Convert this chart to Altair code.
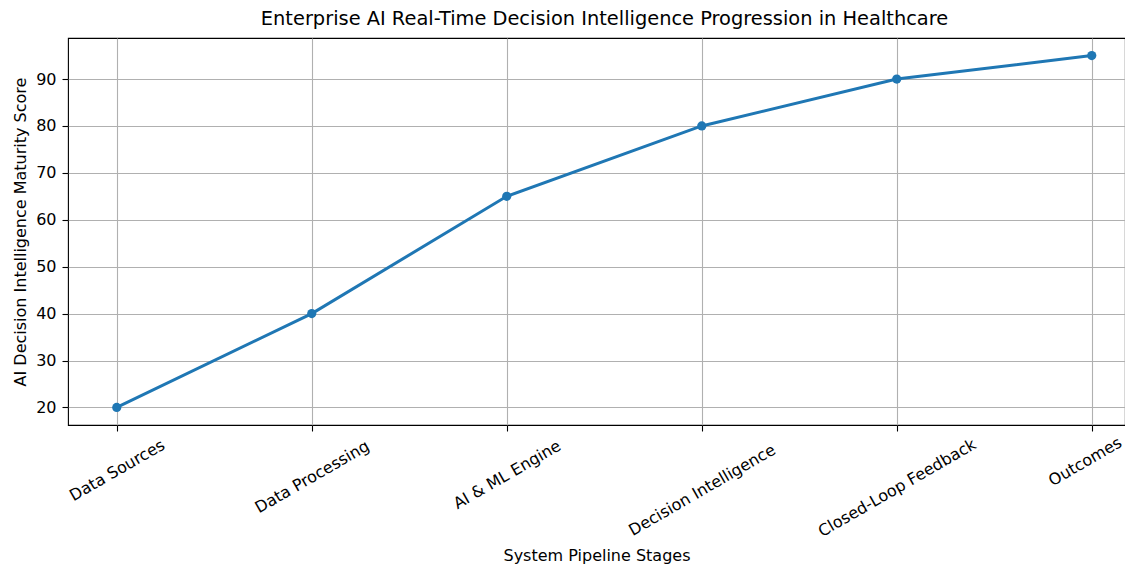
import json
import altair as alt
import pandas as pd

stages = ["Data Sources", "Data Processing", "AI & ML Engine",
          "Decision Intelligence", "Closed-Loop Feedback", "Outcomes"]
scores = [20, 40, 65, 80, 90, 95]
y_ticks = [20, 30, 40, 50, 60, 70, 80, 90]

df = pd.DataFrame({"idx": list(range(len(stages))), "stage": stages, "score": scores})

FONT = "DejaVu Sans"
BLUE = "#1f77b4"
names_js = json.dumps(stages)
last = len(stages) - 1

x_enc = alt.X(
    "idx:Q",
    title="System Pipeline Stages",
    scale=alt.Scale(domain=[-0.25, 5.1705], nice=False, zero=False),
    axis=alt.Axis(
        values=list(range(len(stages))),
        labelExpr=f"{names_js}[datum.value]",
        labelAngle=-30,
        labelAlign="center",
        labelBaseline="middle",
        labelPadding={"expr": f"12.75 + 2.19*length({names_js}[datum.value])"},
        labelOffset={"expr": f"datum.value == {last} ? -7 : 0"},
        labelOverlap=False,
        labelBound=False,
        labelFlush=False,
        titlePadding=8,
    ),
)
y_enc = alt.Y(
    "score:Q",
    title="AI Decision Intelligence Maturity Score",
    scale=alt.Scale(domain=[16.25, 98.75], nice=False, zero=False),
    axis=alt.Axis(values=y_ticks, titlePadding=7, labelPadding=6),
)

line = alt.Chart(df).mark_line(color=BLUE, strokeWidth=3).encode(x=x_enc, y=y_enc)
pts = alt.Chart(df).mark_point(filled=True, color=BLUE, size=85, opacity=1, shape="circle").encode(
    x=x_enc, y=y_enc, tooltip=["stage:N", "score:Q"])

chart = (
    alt.layer(line, pts)
    .properties(
        width=1057,
        height=387,
        autosize="none",
        padding={"left": 60, "top": 30, "right": 0, "bottom": 142},
        title=alt.TitleParams(
            "Enterprise AI Real-Time Decision Intelligence Progression in Healthcare",
            font=FONT, fontSize=19.4, fontWeight="normal", color="black",
            anchor="middle", offset=10, baseline="alphabetic", dx=8, dy=16,
        ),
    )
    .configure_view(stroke="black", strokeWidth=1.1)
    .configure_axis(
        domain=False,
        grid=True,
        gridColor="#b0b0b0",
        gridWidth=1.1,
        tickColor="black",
        tickSize=6,
        tickWidth=1.1,
        labelFont=FONT,
        labelFontSize=16,
        labelColor="black",
        titleFont=FONT,
        titleFontSize=16,
        titleFontWeight="normal",
        titleColor="black",
    )
)

chart.save("out.html", embed_options={"renderer": "svg", "actions": False})
